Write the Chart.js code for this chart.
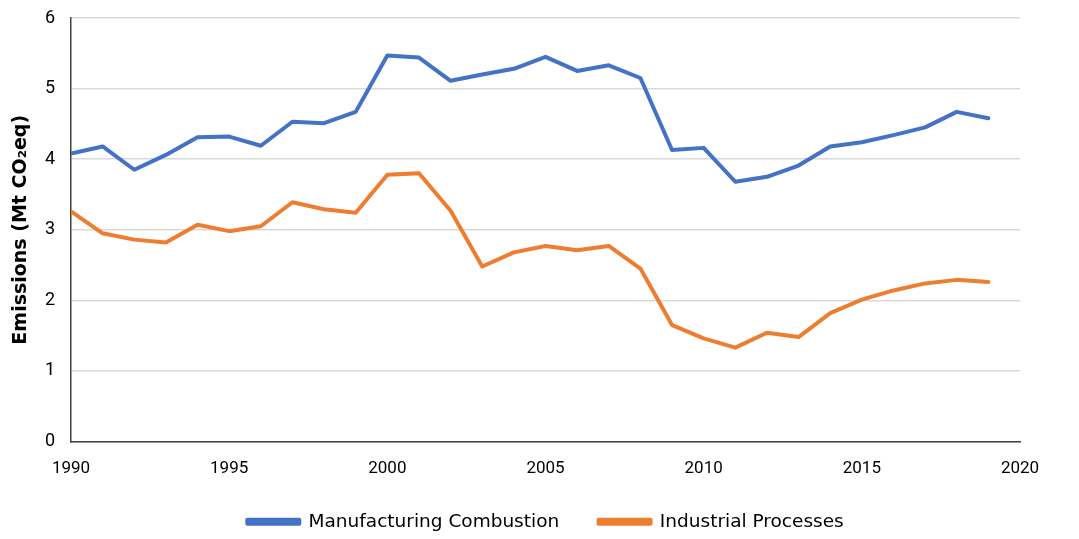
<!DOCTYPE html>
<html lang="en">
<head>
    <meta charset="UTF-8">
    <title>Emissions</title>
    <script src="https://cdnjs.cloudflare.com/ajax/libs/Chart.js/4.4.0/chart.umd.min.js"></script>
    <style>
        html, body { margin: 0; padding: 0; background: #fff; }
        #wrap { width: 1079px; height: 539px; position: relative; }
    </style>
</head>
<body>
    <div id="wrap"><canvas id="chart"></canvas></div>
    <script>
        // Data
        const years = [1990, 1991, 1992, 1993, 1994, 1995, 1996, 1997, 1998, 1999,
                       2000, 2001, 2002, 2003, 2004, 2005, 2006, 2007, 2008, 2009,
                       2010, 2011, 2012, 2013, 2014, 2015, 2016, 2017, 2018, 2019];
        const manufacturingCombustion = [4.08, 4.18, 3.85, 4.06, 4.31, 4.32, 4.19, 4.53, 4.51, 4.67,
                                         5.47, 5.44, 5.11, 5.20, 5.28, 5.45, 5.25, 5.33, 5.15, 4.13,
                                         4.16, 3.68, 3.75, 3.91, 4.18, 4.24, 4.34, 4.45, 4.67, 4.58];
        const industrialProcesses = [3.26, 2.95, 2.86, 2.82, 3.07, 2.98, 3.05, 3.39, 3.29, 3.24,
                                     3.78, 3.80, 3.27, 2.48, 2.68, 2.77, 2.71, 2.77, 2.45, 1.65,
                                     1.46, 1.33, 1.54, 1.48, 1.82, 2.01, 2.14, 2.24, 2.29, 2.26];
        const xTicks = [1990, 1995, 2000, 2005, 2010, 2015, 2020];
        const yTicks = [0, 1, 2, 3, 4, 5, 6];

        const FONT = 'Roboto, "Noto Sans", sans-serif';
        const WIDE = '"DejaVu Sans", sans-serif';

        const toPoints = vals => years.map((y, i) => ({ x: y, y: vals[i] }));

        // centre the legend under the plot area instead of the padded box
        const legendShift = {
            id: 'legendShift',
            afterLayout(chart) {
                const lg = chart.legend;
                const dx = (chart.chartArea.left + chart.chartArea.right) / 2 - (lg.left + lg.right) / 2;
                lg.left += dx;
                lg.right += dx;
                lg.top += 2;
                lg.bottom += 2;
            }
        };

        new Chart(document.getElementById('chart'), {
            type: 'line',
            data: {
                datasets: [{
                    label: 'Manufacturing Combustion',
                    data: toPoints(manufacturingCombustion),
                    borderColor: '#4472c4',
                    backgroundColor: '#4472c4',
                    borderWidth: 4,
                    pointRadius: 0,
                    tension: 0,
                    borderCapStyle: 'round',
                    borderJoinStyle: 'round'
                }, {
                    label: 'Industrial Processes',
                    data: toPoints(industrialProcesses),
                    borderColor: '#ed7d31',
                    backgroundColor: '#ed7d31',
                    borderWidth: 4,
                    pointRadius: 0,
                    tension: 0,
                    borderCapStyle: 'round',
                    borderJoinStyle: 'round'
                }]
            },
            options: {
                responsive: true,
                maintainAspectRatio: false,
                animation: false,
                layout: { padding: { top: 18, right: 59, left: 0, bottom: 0 } },
                scales: {
                    x: {
                        type: 'linear',
                        min: xTicks[0],
                        max: xTicks[xTicks.length - 1],
                        afterBuildTicks: s => { s.ticks = xTicks.map(v => ({ value: v })); },
                        grid: { display: false, drawTicks: false },
                        border: { color: '#404040', width: 1.5 },
                        ticks: {
                            color: '#000',
                            font: { family: FONT, size: 17 },
                            padding: 17,
                            maxRotation: 0,
                            callback: v => String(v)
                        },
                        afterFit: s => { s.height = 59; s.paddingLeft = 0; s.paddingRight = 0; }
                    },
                    y: {
                        min: 0,
                        max: 6,
                        afterBuildTicks: s => { s.ticks = yTicks.map(v => ({ value: v })); },
                        grid: { color: '#d9d9d9', lineWidth: 1.5, drawTicks: false },
                        border: { color: '#404040', width: 1.5 },
                        ticks: {
                            color: '#000',
                            font: { family: FONT, size: 18 },
                            padding: 16
                        },
                        title: {
                            display: true,
                            text: 'Emissions (Mt CO\u2082eq)',
                            color: '#000',
                            font: { family: WIDE, size: 19, weight: 'bold' },
                            padding: { top: 10, bottom: 0 }
                        },
                        afterFit: s => { s.width = 71; s.paddingTop = 0; s.paddingBottom = 0; }
                    }
                },
                plugins: {
                    legend: {
                        position: 'bottom',
                        labels: {
                            color: '#000',
                            font: { family: WIDE, size: 18.5 },
                            boxWidth: 52,
                            boxHeight: 4,
                            padding: 10,
                            generateLabels: chart => {
                                const items = Chart.defaults.plugins.legend.labels.generateLabels(chart);
                                // widen the gap after the first entry
                                items[0].text += '     ';
                                return items;
                            }
                        }
                    },
                    tooltip: { enabled: false }
                }
            },
            plugins: [legendShift]
        });
    </script>
</body>
</html>
